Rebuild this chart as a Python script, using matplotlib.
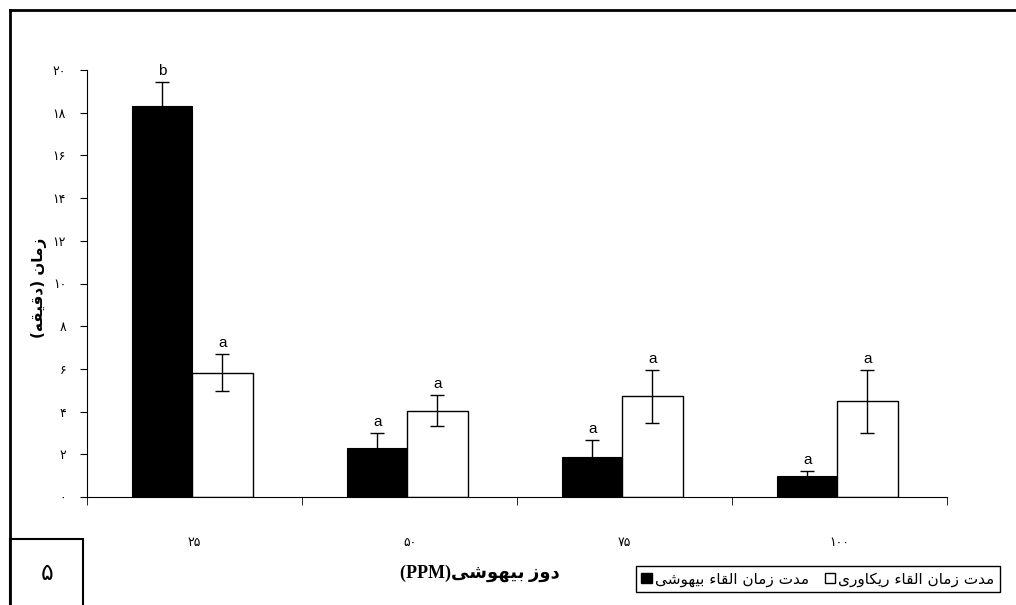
import matplotlib.pyplot as plt
import numpy as np
from matplotlib.lines import Line2D
from matplotlib.patches import Rectangle

# presentation forms: isolated, final, initial, medial
FORMS = {
    'ا': (0xFE8D, 0xFE8E), 'ب': (0xFE8F, 0xFE90, 0xFE91, 0xFE92),
    'ت': (0xFE95, 0xFE96, 0xFE97, 0xFE98), 'د': (0xFEA9, 0xFEAA),
    'ر': (0xFEAD, 0xFEAE), 'ز': (0xFEAF, 0xFEB0),
    'ش': (0xFEB5, 0xFEB6, 0xFEB7, 0xFEB8), 'ق': (0xFED5, 0xFED6, 0xFED7, 0xFED8),
    'ل': (0xFEDD, 0xFEDE, 0xFEDF, 0xFEE0), 'م': (0xFEE1, 0xFEE2, 0xFEE3, 0xFEE4),
    'ن': (0xFEE5, 0xFEE6, 0xFEE7, 0xFEE8), 'ه': (0xFEE9, 0xFEEA, 0xFEEB, 0xFEEC),
    'و': (0xFEED, 0xFEEE), 'ء': (0xFE80,),
    'ی': (0xFBFC, 0xFBFD, 0xFBFE, 0xFBFF), 'ک': (0xFB8E, 0xFB8F, 0xFB90, 0xFB91),
}


def shape(word):
    out = []
    for i, ch in enumerate(word):
        f = FORMS.get(ch)
        if f is None:
            out.append(ch)
            continue
        prev = word[i - 1] if i > 0 else None
        nxt = word[i + 1] if i + 1 < len(word) else None
        jp = prev in FORMS and len(FORMS[prev]) == 4 and len(f) >= 2
        jn = len(f) == 4 and nxt in FORMS and len(FORMS[nxt]) >= 2
        out.append(chr(f[(2 if jn else 0) + (1 if jp else 0)]))
    return ''.join(out)


def rtl(s):
    return shape(s)[::-1]


def fa(n):
    return str(n).translate(str.maketrans('0123456789', '۰۱۲۳۴۵۶۷۸۹'))


doses = [25, 50, 75, 100]
induction = [18.3, 2.3, 1.88, 0.98]
induction_se = [1.12, 0.68, 0.8, 0.22]
recovery = [5.82, 4.04, 4.71, 4.48]
recovery_se = [0.86, 0.72, 1.23, 1.47]
induction_letters = ['b', 'a', 'a', 'a']
recovery_letters = ['a', 'a', 'a', 'a']
yticks = list(range(0, 21, 2))

plt.rcParams['font.family'] = ['DejaVu Sans']
fig = plt.figure(figsize=(10.16, 6.05), dpi=100)
ax = fig.add_axes([87 / 1016, 1 - 497 / 605, 860 / 1016, 427 / 605])

x = np.arange(len(doses))
w = 0.28
ekw = dict(ecolor='black', elinewidth=1, capsize=5, capthick=1)
ax.bar(x - 0.15, induction, w, color='black', edgecolor='black', lw=0.8,
       yerr=induction_se, error_kw=ekw)
ax.bar(x + 0.13, recovery, w, color='white', edgecolor='black', lw=1,
       yerr=recovery_se, error_kw=ekw)

for i in range(len(doses)):
    ax.annotate(induction_letters[i], (x[i] - 0.15, induction[i] + induction_se[i]),
                xytext=(0, 3), textcoords='offset points', ha='center', va='bottom',
                fontsize=11, family='Liberation Sans')
    ax.annotate(recovery_letters[i], (x[i] + 0.13, recovery[i] + recovery_se[i]),
                xytext=(0, 3), textcoords='offset points', ha='center', va='bottom',
                fontsize=11, family='Liberation Sans')

ax.set_xlim(-0.5, len(doses) - 0.5)
ax.set_ylim(0, 20)
ax.set_yticks(yticks)
ax.set_yticklabels([fa(v) for v in yticks], fontsize=9)
ax.set_xticks(x)
ax.set_xticklabels([fa(d) for d in doses], fontsize=9)
ax.set_xticks(np.arange(-0.5, len(doses)), minor=True)
ax.tick_params(axis='x', which='major', length=0, pad=28)
ax.tick_params(axis='x', which='minor', length=6, direction='out')
ax.tick_params(axis='y', length=5, pad=10)
for s in ['top', 'right']:
    ax.spines[s].set_visible(False)

ax.set_ylabel('(' + rtl('دقیقه') + ') ' + rtl('زمان'), fontsize=11,
              fontweight='bold')
ax.yaxis.set_label_coords(-0.047, 0.49)

fig.text(480 / 1016, 1 - 573 / 605, '(PPM)' + rtl('دوز بیهوشی'),
         ha='center', va='center', fontsize=13, fontweight='bold',
         family=['Liberation Serif', 'DejaVu Sans'])

# outer frame
fig.add_artist(Line2D([10 / 1016, 1.0], [1 - 10 / 605] * 2, color='black', lw=2,
                      transform=fig.transFigure))
fig.add_artist(Line2D([10 / 1016] * 2, [0, 1 - 10 / 605], color='black', lw=2,
                      transform=fig.transFigure))
fig.add_artist(Rectangle((10 / 1016, -0.01), 73 / 1016, 1 - 539 / 605 + 0.01,
                         fill=False, edgecolor='black', lw=1.5,
                         transform=fig.transFigure))
fig.text(47 / 1016, 1 - 573 / 605, fa(5), ha='center', va='center', fontsize=17)

handles = [Rectangle((0, 0), 1, 1, facecolor='black', edgecolor='black'),
           Rectangle((0, 0), 1, 1, facecolor='white', edgecolor='black')]
labels = [rtl('مدت زمان القاء بیهوشی'), rtl('مدت زمان القاء ریکاوری')]
fig.legend(handles, labels, ncol=2, loc='lower left',
           bbox_to_anchor=(636 / 1016, 1 - 592 / 605), fontsize=11,
           frameon=True, fancybox=False, edgecolor='black', framealpha=1,
           handlelength=0.7, handleheight=0.7, handletextpad=0.2,
           columnspacing=1.0, borderpad=0.35, borderaxespad=0)

fig.savefig('out.png', dpi=100)
